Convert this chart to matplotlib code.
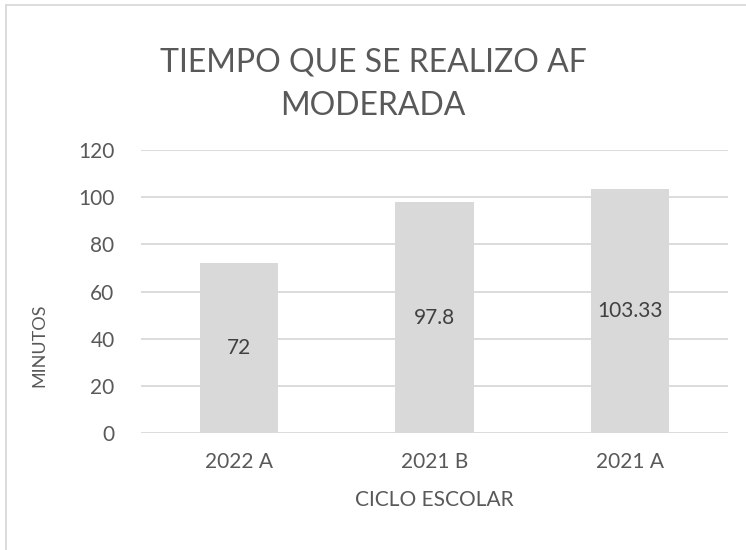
import matplotlib.pyplot as plt
from matplotlib.lines import Line2D

plt.rcParams['font.family'] = ['Lato', 'DejaVu Sans']

ciclos = ['2022 A', '2021 B', '2021 A']
minutos = [72, 97.8, 103.33]
etiquetas = ['72', '97.8', '103.33']
yticks = [0, 20, 40, 60, 80, 100, 120]

gris_texto = '#595959'
gris_barra = '#d9d9d9'

fig = plt.figure(figsize=(7.46, 5.5), dpi=100)
ax = fig.add_axes([141 / 746, 1 - 433 / 550, (728 - 141) / 746, (433 - 150) / 550])

x = range(len(ciclos))
bars = ax.bar(x, minutos, width=0.4, color=gris_barra, zorder=2)

for b, lab in zip(bars, etiquetas):
    ax.text(b.get_x() + b.get_width() / 2, b.get_height() / 2, lab,
            ha='center', va='center', fontsize=15, color='#404040', zorder=3)

ax.set_xlim(-0.5, 2.5)
ax.set_ylim(0, 120)
ax.set_yticks(yticks)
ax.set_xticks(list(x))
ax.set_xticklabels(ciclos)
ax.tick_params(length=0, labelsize=15, colors=gris_texto)
ax.tick_params(axis='y', pad=19)
ax.tick_params(axis='x', pad=14)
ax.grid(axis='y', color=gris_barra, linewidth=1.3, zorder=0)
for s in ax.spines.values():
    s.set_visible(False)

ax.set_xlabel('CICLO ESCOLAR', fontsize=15, color=gris_texto, labelpad=13)
fig.text(39 / 746, 1 - 345 / 550, 'MINUTOS', rotation=90, ha='center', va='center',
         fontsize=13, color=gris_texto)

fig.text(0.5, 1 - 84 / 550, 'TIEMPO QUE SE REALIZO AF\nMODERADA', ha='center', va='center',
         fontsize=23, color=gris_texto, linespacing=1.55)

# borde del area del grafico
fig.add_artist(Line2D([6 / 746, 6 / 746], [0, 1 - 5 / 550], color=gris_barra, lw=1.3,
                      transform=fig.transFigure))
fig.add_artist(Line2D([6 / 746, 1], [1 - 5 / 550, 1 - 5 / 550], color=gris_barra, lw=1.3,
                      transform=fig.transFigure))

fig.savefig('out.png', dpi=100)
